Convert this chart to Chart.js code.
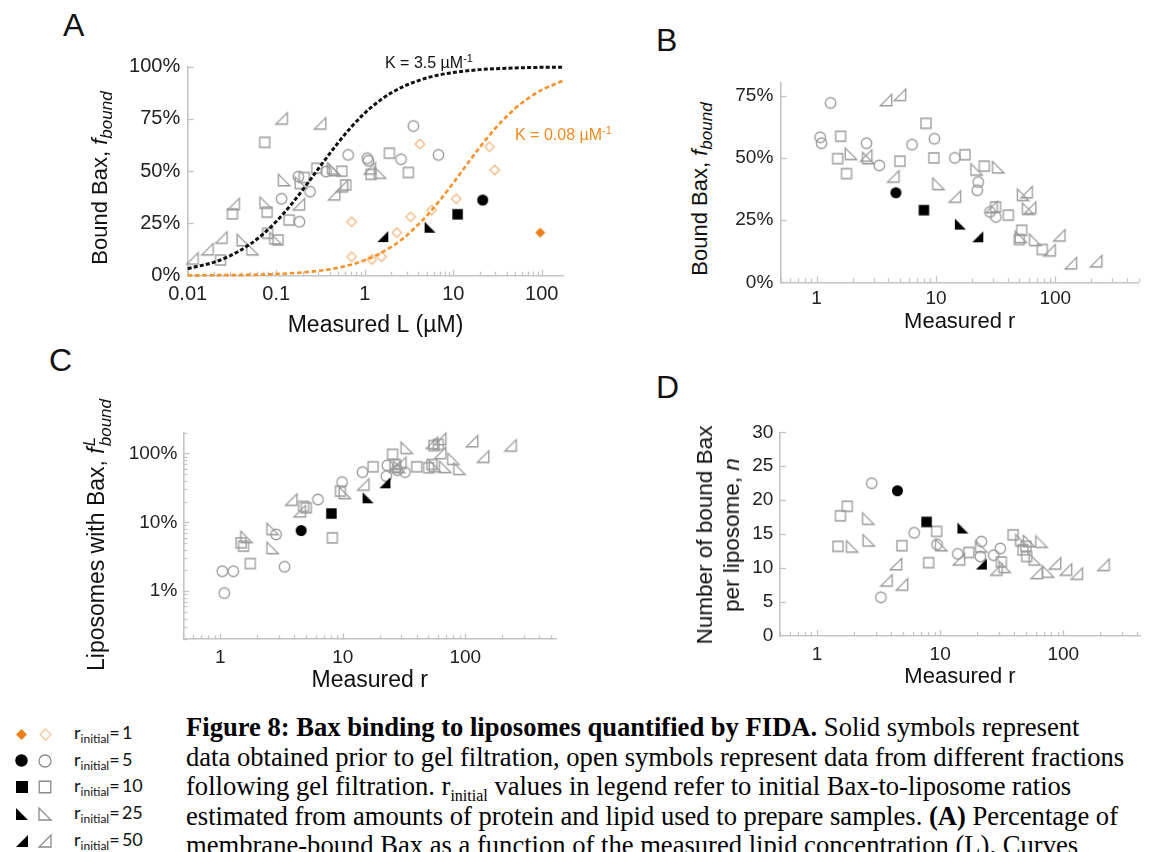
<!DOCTYPE html>
<html>
<head>
<meta charset="utf-8">
<script src="https://cdn.jsdelivr.net/npm/chart.js@4.4.0/dist/chart.umd.min.js"></script>
<style>
body { margin: 0; width: 1149px; height: 852px; overflow: hidden; background: #fff; position: relative;
       font-family: 'Liberation Sans', Arial, sans-serif; color: #111; }
canvas { position: absolute; }
.lbl { position: absolute; white-space: nowrap; line-height: 1; }
.yt { position: absolute; white-space: nowrap; transform: translate(-50%, -50%) rotate(-90deg); }
.yt sub { font-style: italic; vertical-align: -0.3em; line-height: 0; }
.letter { position: absolute; font-size: 32px; line-height: 1; }
.stack { display: inline-flex; flex-direction: column; font-style: italic; font-size: 17px; line-height: 16px; vertical-align: 9px; margin-left: 1px; }
.cap { position: absolute; left: 186px; top: 713px; font-family: 'Liberation Serif', 'Times New Roman', serif;
       font-size: 26.6px; line-height: 29.6px; white-space: nowrap; color: #000; }
.cap sub { font-size: 16px; line-height: 0; }
.leg { position: absolute; left: 74px; font-family: Lato, sans-serif; font-size: 18px; line-height: 20px; white-space: nowrap; color: #111; }
.leg sub { font-size: 12px; line-height: 0; vertical-align: -4px; }
</style>
</head>
<body>

<div class="letter" style="left:63px;top:9px">A</div>
<div class="letter" style="left:656px;top:24px">B</div>
<div class="letter" style="left:49px;top:344px">C</div>
<div class="letter" style="left:656px;top:371px">D</div>

<canvas id="chartA"></canvas>
<canvas id="chartB"></canvas>
<canvas id="chartC"></canvas>
<canvas id="chartD"></canvas>

<div class="yt" style="left:100px;top:178px;font-size:22px;line-height:22px">Bound Bax, <i>f</i><sub style="font-size:17px">bound</sub></div>
<div class="yt" style="left:700px;top:189px;font-size:22px;line-height:22px">Bound Bax, <i>f</i><sub style="font-size:17px">bound</sub></div>
<div class="yt" style="left:98px;top:535px;font-size:23px;line-height:23px">Liposomes with Bax, <i>f</i><span class="stack"><span>L</span><span>bound</span></span></div>
<div class="yt" style="left:718px;top:535px;font-size:22.5px;line-height:27px;text-align:center">Number of bound Bax<br>per liposome, <i>n</i></div>

<div class="lbl" style="left:385px;top:53px;font-size:16px;color:#111">K = 3.5 &micro;M<sup style="font-size:11px">-1</sup></div>
<div class="lbl" style="left:515px;top:125px;font-size:16px;color:#f28a1f">K = 0.08 &micro;M<sup style="font-size:11px">-1</sup></div>

<div id="legend"></div>

<div class="cap"><b>Figure 8: Bax binding to liposomes quantified by FIDA.</b> Solid symbols represent<br>data obtained prior to gel filtration, open symbols represent data from different fractions<br>following gel filtration. r<sub>initial</sub> values in legend refer to initial Bax-to-liposome ratios<br>estimated from amounts of protein and lipid used to prepare samples. <b>(A)</b> Percentage of<br>membrane-bound Bax as a function of the measured lipid concentration (L). Curves</div>

<script>
// ---- panel A: fraction bound vs measured lipid L (uM)
const A_r1_solid = [[96, 0.206]];
const A_r1_open = [[4.2, 0.63], [25.6, 0.617], [29.4, 0.506], [10.8, 0.368], [5.7, 0.314], [3.3, 0.282],
  [0.71, 0.258], [2.3, 0.206], [0.71, 0.091], [1.2, 0.078], [1.55, 0.091]];
const A_r5_solid = [[21.5, 0.362]];
const A_r5_open = [[3.54, 0.716], [0.65, 0.578], [1.07, 0.562], [1.1, 0.55], [2.57, 0.557], [6.8, 0.578],
  [0.366, 0.498], [0.178, 0.474], [0.241, 0.402], [0.115, 0.368], [0.183, 0.258]];
const A_r10_solid = [[11.2, 0.294]];
const A_r10_open = [[0.074, 0.638], [0.287, 0.514], [0.55, 0.5], [0.207, 0.47], [0.61, 0.434], [1.9, 0.586],
  [3.11, 0.494], [1.18, 0.485], [0.032, 0.296], [0.079, 0.304], [0.14, 0.266], [0.08, 0.203],
  [0.105, 0.171], [0.0235, 0.075]];
const A_r25_solid = [[5.47, 0.232]];
const A_r25_open = [[0.46, 0.506], [0.123, 0.458], [0.076, 0.35], [0.042, 0.171], [0.054, 0.127],
  [0.098, 0.18], [1.49, 0.494], [0.44, 0.514], [0.19, 0.445]];
const A_r50_solid = [[1.6, 0.187]];
const A_r50_open = [[0.115, 0.753], [0.313, 0.729], [0.033, 0.343], [0.18, 0.342], [0.024, 0.183],
  [0.0167, 0.127], [0.0113, 0.083], [0.45, 0.39], [0.55, 0.428], [1.14, 0.514]];

// binding curves
const curveHighL = [0.01, 0.02, 0.03, 0.05, 0.07, 0.1, 0.15, 0.2, 0.3, 0.5, 0.7, 1, 1.5, 2, 3, 5, 7, 10, 20, 50, 100, 175];
const curveHighF = [0.034, 0.065, 0.095, 0.149, 0.197, 0.259, 0.344, 0.412, 0.512, 0.636, 0.71, 0.778, 0.84,
  0.875, 0.913, 0.946, 0.961, 0.972, 0.986, 0.994, 0.997, 0.998];
const curveLowL = [0.01, 0.1, 0.3, 0.5, 1, 2, 3, 5, 7, 10, 15, 20, 30, 50, 70, 100, 175];
const curveLowF = [0.001, 0.008, 0.023, 0.038, 0.074, 0.138, 0.194, 0.286, 0.359, 0.444, 0.545, 0.615,
  0.706, 0.8, 0.848, 0.889, 0.933];

// ---- panel B: fraction bound vs measured r
const B_r5_solid = [[4.62, 0.36]];
const B_r5_open = [[1.31, 0.721], [1.07, 0.583], [1.1, 0.559], [2.62, 0.559], [3.35, 0.47], [6.3, 0.553],
  [9.7, 0.577], [14.4, 0.5], [22.6, 0.403], [22.2, 0.37], [28.4, 0.283], [31.8, 0.263]];
const B_r10_solid = [[7.93, 0.29]];
const B_r10_open = [[1.59, 0.587], [1.5, 0.497], [1.78, 0.437], [4.99, 0.487], [8.25, 0.639], [9.6, 0.5],
  [17.5, 0.513], [25.4, 0.467], [31.6, 0.303], [40.4, 0.27], [52.3, 0.209], [49.9, 0.172], [77.8, 0.132]];
const B_r25_solid = [[16, 0.234]];
const B_r25_open = [[1.94, 0.517], [2.71, 0.5], [10.5, 0.396], [33.3, 0.463], [21.9, 0.454], [53.8, 0.352],
  [59.3, 0.296], [51.5, 0.183], [68, 0.171]];
const B_r50_solid = [[22.4, 0.183]];
const B_r50_open = [[3.81, 0.733], [4.99, 0.754], [4.39, 0.426], [14.4, 0.345], [29.2, 0.303], [57.5, 0.363],
  [61.5, 0.3], [89.5, 0.129], [108, 0.189], [135, 0.077], [220, 0.085], [2.6, 0.51]];

// ---- panel C: fraction of liposomes with Bax vs measured r
const C_r5_solid = [[4.58, 0.076]];
const C_r5_open = [[1.04, 0.0195], [1.28, 0.0195], [1.08, 0.0094], [2.86, 0.0665], [3.35, 0.0226],
  [6.28, 0.214], [9.87, 0.383], [14.5, 0.535], [23.1, 0.67], [22.7, 0.468], [27.9, 0.572], [32.2, 0.535]];
const C_r10_solid = [[8.08, 0.134]];
const C_r10_open = [[1.48, 0.0503], [1.55, 0.045], [1.76, 0.0252], [5.04, 0.162], [4.8, 0.17], [9.57, 0.283],
  [8.23, 0.0595], [17.7, 0.64], [25.5, 0.97], [26.7, 0.69], [40.2, 0.64], [50.2, 0.62], [53.4, 0.69],
  [60.3, 1.35], [55.5, 1.3]];
const C_r25_solid = [[16.1, 0.227]];
const C_r25_open = [[1.64, 0.0615], [2.68, 0.0426], [2.68, 0.0805], [10.4, 0.268], [33.3, 1.21], [28.9, 0.64],
  [68.6, 0.64], [80, 0.84], [89.8, 0.6], [56.6, 0.654]];
const C_r50_solid = [[22.1, 0.375]];
const C_r50_open = [[3.8, 0.214], [4.45, 0.145], [14.7, 0.355], [26.7, 0.65], [62.4, 1.63], [53.4, 1.43],
  [113.5, 1.51], [139.6, 0.9], [234, 1.31], [29.5, 0.73], [62.4, 1.02]];

// ---- panel D: number of bound Bax per liposome vs measured r
const D_r5_solid = [[4.5, 21.4]];
const D_r5_open = [[2.78, 22.5], [3.3, 5.7], [6.15, 15.2], [9.43, 13.5], [13.9, 12.1], [21.6, 13.9],
  [21.2, 11.7], [27.2, 11.9], [30.8, 12.9]];
const D_r10_solid = [[7.76, 16.8]];
const D_r10_open = [[1.48, 13.2], [1.55, 17.7], [1.76, 19.1], [4.89, 13.3], [8.06, 10.8], [9.36, 15.4],
  [17.1, 12.3], [39.1, 14.9], [47.1, 12.7], [50.4, 11.7], [31.4, 10.9], [49.7, 13.2]];
const D_r25_solid = [[15.3, 15.9]];
const D_r25_open = [[1.93, 13.2], [2.61, 17.3], [2.63, 14.1], [10.2, 13.4], [21.6, 13.2], [33.4, 10.2],
  [45.7, 14.1], [52.8, 14.0], [66.6, 13.9], [58.7, 11.3], [75.5, 9.5]];
const D_r50_solid = [[21.6, 10.6]];
const D_r50_open = [[3.66, 8.2], [4.37, 10.6], [4.89, 7.6], [14.2, 11.3], [28.6, 9.8], [60.7, 9.3],
  [85.6, 10.7], [105, 9.8], [128.6, 9.2], [212, 10.5]];

// tick labels
const ticksL = [0.01, 0.1, 1, 10, 100];
const ticksR = [1, 10, 100];
const ticksFrac = [0, 0.25, 0.5, 0.75, 1];
const ticksFracB = [0, 0.25, 0.5, 0.75];
const ticksLip = [0.01, 0.1, 1];
const ticksN = [0, 5, 10, 15, 20, 25, 30];
const legendLabels = ['1', '5', '10', '25', '50'];

const FONT = "'Liberation Sans', Arial, sans-serif";
const AXIS = '#c4c4c4';
const GRAY = '#9a9a9a';

// marker images used as point styles (and in the legend)
function marker(shape, fill, stroke, s) {
  const c = document.createElement('canvas');
  const w = Math.ceil(s + 4);
  c.width = w; c.height = w;
  const g = c.getContext('2d');
  const m = w / 2, h = s / 2;
  g.beginPath();
  if (shape === 'circle') g.arc(m, m, h, 0, Math.PI * 2);
  else if (shape === 'square') g.rect(m - h, m - h, s, s);
  else if (shape === 'diamond') { g.moveTo(m, m - h); g.lineTo(m + h, m); g.lineTo(m, m + h); g.lineTo(m - h, m); g.closePath(); }
  else if (shape === 'triL') { g.moveTo(m - h, m - h); g.lineTo(m - h, m + h); g.lineTo(m + h, m + h); g.closePath(); }
  else if (shape === 'triR') { g.moveTo(m + h, m - h); g.lineTo(m + h, m + h); g.lineTo(m - h, m + h); g.closePath(); }
  if (fill) { g.fillStyle = fill; g.fill(); }
  if (stroke) { g.strokeStyle = stroke; g.lineWidth = 1.3; g.stroke(); }
  return c;
}

const M = {
  r1s: marker('diamond', '#ea7f1c', null, 10),
  r1o: marker('diamond', null, '#f4b883', 9.5),
  r5s: marker('circle', '#000', null, 11),
  r5o: marker('circle', null, GRAY, 10.5),
  r10s: marker('square', '#000', null, 10.5),
  r10o: marker('square', null, GRAY, 10),
  r25s: marker('triL', '#000', null, 11),
  r25o: marker('triL', null, GRAY, 11.5),
  r50s: marker('triR', '#000', null, 11),
  r50o: marker('triR', null, GRAY, 11.5)
};

const pts = a => a.map(([x, y]) => ({x, y}));
const dot = (arr, style, order) => ({data: pts(arr), pointStyle: style, pointRadius: 5, order, clip: false});
const curve = (xs, ys, color, width, dash) => ({
  data: xs.map((x, i) => ({x, y: ys[i]})), showLine: true, pointRadius: 0, borderColor: color,
  borderWidth: width, borderDash: dash, cubicInterpolationMode: 'monotone', order: 2, clip: false
});

// small tick marks drawn inside the plot area, like the original
function logMarks(lo, hi) {
  const out = [];
  for (let e = -3; e <= 3; e++) {
    for (let k = 1; k <= 9; k++) {
      const v = +(k * Math.pow(10, e)).toPrecision(3);
      if (v >= lo * 0.999 && v <= hi * 1.001) out.push([v, k === 1 ? 6 : 4]);
    }
  }
  return out;
}
const linMarks = vals => vals.filter(v => v !== 0).map(v => [v, 6]);

const innerTicks = {
  id: 'innerTicks',
  beforeDatasetsDraw(chart, args, opts) {
    const ctx = chart.ctx, a = chart.chartArea;
    ctx.save();
    ctx.strokeStyle = AXIS;
    ctx.lineWidth = 1.3;
    for (const axis of ['x', 'y']) {
      const sc = chart.scales[axis];
      for (const [v, len] of opts[axis] || []) {
        const p = Math.round(sc.getPixelForValue(v)) + 0.5;
        ctx.beginPath();
        if (axis === 'x') { ctx.moveTo(p, a.bottom); ctx.lineTo(p, a.bottom - len); }
        else { ctx.moveTo(a.left, p); ctx.lineTo(a.left + len, p); }
        ctx.stroke();
      }
    }
    ctx.restore();
  }
};

const pct = v => Math.round(v * 100) + '%';
const plain = v => String(v);

function makeChart(id, g, x, y, datasets) {
  const [bl, bt, bw, bh] = g.box;
  const [al, at, ar, ab] = g.area;
  const cv = document.getElementById(id);
  cv.width = bw; cv.height = bh;
  cv.style.left = bl + 'px'; cv.style.top = bt + 'px';
  const yW = al - bl, xH = bt + bh - ab;
  const titlePad = bt + bh - x.titleY - x.titleSize * 0.6;
  const tickFont = {size: g.tick, family: FONT};
  return new Chart(cv, {
    type: 'scatter',
    data: {datasets},
    options: {
      responsive: false,
      animation: false,
      events: [],
      layout: {padding: {left: 0, top: at - bt, right: bl + bw - ar, bottom: 0}},
      plugins: {legend: {display: false}, tooltip: {enabled: false}, innerTicks: {x: x.inner, y: y.inner}},
      scales: {
        x: {
          type: x.type, min: x.min, max: x.max, position: 'bottom',
          grid: {display: false, drawTicks: false, tickLength: 0},
          border: {color: AXIS, width: 1.6},
          ticks: {font: tickFont, color: '#222', padding: x.pad, autoSkip: false, maxRotation: 0, callback: x.fmt},
          afterBuildTicks: s => { s.ticks = x.labels.map(v => ({value: v})); },
          afterFit: s => { s.height = xH; },
          title: {display: true, text: x.title, color: '#111', font: {size: x.titleSize, family: FONT},
                  padding: {top: 0, bottom: titlePad}}
        },
        y: {
          type: y.type, min: y.min, max: y.max, position: 'left',
          grid: {display: false, drawTicks: false, tickLength: 0},
          border: {color: AXIS, width: 1.6},
          ticks: {font: tickFont, color: '#222', padding: y.pad, autoSkip: false, callback: y.fmt},
          afterBuildTicks: s => { s.ticks = y.labels.map(v => ({value: v})); },
          afterFit: s => { s.width = yW; }
        }
      }
    },
    plugins: [innerTicks]
  });
}

function markerSets(s) {
  const out = [];
  if (s.r1o) out.push(dot(s.r1o, M.r1o, 3));
  out.push(dot(s.r5o, M.r5o, 3), dot(s.r10o, M.r10o, 3), dot(s.r25o, M.r25o, 3), dot(s.r50o, M.r50o, 3));
  out.push(dot(s.r5s, M.r5s, 1), dot(s.r10s, M.r10s, 1), dot(s.r25s, M.r25s, 1), dot(s.r50s, M.r50s, 1));
  if (s.r1s) out.push(dot(s.r1s, M.r1s, 1));
  return out;
}

makeChart('chartA', {box: [110, 40, 480, 300], area: [187.7, 66.7, 563.3, 275.7], tick: 20},
  {type: 'logarithmic', min: 0.01, max: 175, labels: ticksL, fmt: plain, pad: 7,
   title: 'Measured L (\u00b5M)', titleSize: 23, titleY: 325.5, inner: logMarks(0.01, 175)},
  {type: 'linear', min: 0, max: 1, labels: ticksFrac, fmt: pct, pad: 7.5, inner: linMarks(ticksFrac)},
  markerSets({r1s: A_r1_solid, r1o: A_r1_open, r5s: A_r5_solid, r5o: A_r5_open, r10s: A_r10_solid, r10o: A_r10_open,
              r25s: A_r25_solid, r25o: A_r25_open, r50s: A_r50_solid, r50o: A_r50_open})
    .concat([curve(curveHighL, curveHighF, '#111', 3, [4, 2.2]), curve(curveLowL, curveLowF, '#f7922a', 2.6, [4.5, 2.8])]));

makeChart('chartB', {box: [720, 60, 429, 280], area: [780.7, 83.3, 1138.7, 282.3], tick: 19},
  {type: 'logarithmic', min: 0.5, max: 500, labels: ticksR, fmt: plain, pad: 5.3,
   title: 'Measured r', titleSize: 22, titleY: 321.7, inner: logMarks(0.5, 500)},
  {type: 'linear', min: 0, max: 0.8, labels: ticksFracB, fmt: pct, pad: 7.4, inner: linMarks(ticksFracB)},
  markerSets({r5s: B_r5_solid, r5o: B_r5_open, r10s: B_r10_solid, r10o: B_r10_open,
              r25s: B_r25_solid, r25o: B_r25_open, r50s: B_r50_solid, r50o: B_r50_open}));

makeChart('chartC', {box: [110, 410, 470, 290], area: [183.3, 432.7, 556, 639.3], tick: 19},
  {type: 'logarithmic', min: 0.5, max: 550, labels: ticksR, fmt: plain, pad: 6.8,
   title: 'Measured r', titleSize: 23, titleY: 680.5, inner: logMarks(0.5, 550)},
  {type: 'logarithmic', min: 0.002, max: 2, labels: ticksLip, fmt: pct, pad: 6, inner: logMarks(0.002, 2)},
  markerSets({r5s: C_r5_solid, r5o: C_r5_open, r10s: C_r10_solid, r10o: C_r10_open,
              r25s: C_r25_solid, r25o: C_r25_open, r50s: C_r50_solid, r50o: C_r50_open}));

makeChart('chartD', {box: [730, 410, 419, 290], area: [780, 432.3, 1140, 636], tick: 19},
  {type: 'logarithmic', min: 0.5, max: 420, labels: ticksR, fmt: plain, pad: 7.6,
   title: 'Measured r', titleSize: 22, titleY: 677, inner: logMarks(0.5, 420)},
  {type: 'linear', min: 0, max: 30, labels: ticksN, fmt: plain, pad: 6.7, inner: linMarks(ticksN)},
  markerSets({r5s: D_r5_solid, r5o: D_r5_open, r10s: D_r10_solid, r10o: D_r10_open,
              r25s: D_r25_solid, r25o: D_r25_open, r50s: D_r50_solid, r50o: D_r50_open}));

// legend: solid + open symbol per r_initial
const legendRows = [['r1s', 'r1o'], ['r5s', 'r5o'], ['r10s', 'r10o'], ['r25s', 'r25o'], ['r50s', 'r50o']];
const legendBig = {
  r1s: marker('diamond', '#ea7f1c', null, 11), r1o: marker('diamond', null, '#f6c89c', 11),
  r5s: marker('circle', '#000', null, 12.5), r5o: marker('circle', null, '#8a8a8a', 12),
  r10s: marker('square', '#000', null, 12), r10o: marker('square', null, '#8a8a8a', 11.5),
  r25s: marker('triL', '#000', null, 12), r25o: marker('triL', null, '#8a8a8a', 12),
  r50s: marker('triR', '#000', null, 12), r50o: marker('triR', null, '#8a8a8a', 12)
};
const leg = document.getElementById('legend');
legendRows.forEach((keys, i) => {
  const cy = 734 + i * 26.7;
  [21.7, 45].forEach((cx, j) => {
    const c = legendBig[keys[j]];
    c.style.left = (cx - c.width / 2) + 'px';
    c.style.top = (cy - c.height / 2) + 'px';
    leg.appendChild(c);
  });
  const t = document.createElement('div');
  t.className = 'leg';
  t.style.top = (cy + 5.5 - 17.6) + 'px';
  t.innerHTML = 'r<sub>initial</sub>=\u2009' + legendLabels[i];
  leg.appendChild(t);
});
</script>
</body>
</html>
